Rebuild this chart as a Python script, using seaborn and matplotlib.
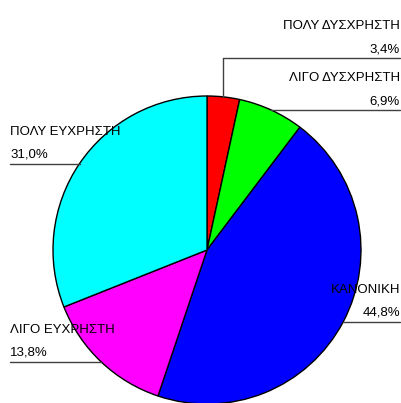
import numpy as np
import matplotlib
matplotlib.use("Agg")
import matplotlib.pyplot as plt
import seaborn as sns

categories = ["ΠΟΛΥ ΔΥΣΧΡΗΣΤΗ", "ΛΙΓΟ ΔΥΣΧΡΗΣΤΗ", "ΚΑΝΟΝΙΚΗ", "ΛΙΓΟ ΕΥΧΡΗΣΤΗ", "ΠΟΛΥ ΕΥΧΡΗΣΤΗ"]
values = [3.4, 6.9, 44.8, 13.8, 31.0]
pct_labels = ["3,4%", "6,9%", "44,8%", "13,8%", "31,0%"]
colors = ["#FF0000", "#00FF00", "#0000FF", "#FF00FF", "#00FFFF"]

sns.set_theme(style="white")
plt.rcParams['font.family'] = ['Liberation Sans', 'DejaVu Sans']

W, H = 401, 403
fig = plt.figure(figsize=(W / 100, H / 100), dpi=100)
ax = fig.add_axes([0, 0, 1, 1])

cx, cy, r = 207, H - 250, 154
wedges, _ = ax.pie(values, colors=colors, startangle=90, counterclock=False,
                   center=(cx, cy), radius=r, frame=True,
                   wedgeprops=dict(edgecolor='black', linewidth=1.0))
ax.set_xlim(0, W)
ax.set_ylim(0, H)
ax.set_aspect('equal')
ax.axis('off')

# label layout: side, and whether leader goes up vertically (y in pixel coords from top)
layout = [
    dict(side='right', up_to=58),
    dict(side='right', up_to=None),
    dict(side='right', up_to=None),
    dict(side='left', up_to=None),
    dict(side='left', up_to=None),
]

fs = 9.5
lc = '#404040'
for w, cat, pct, lay in zip(wedges, categories, pct_labels, layout):
    ang = np.deg2rad((w.theta1 + w.theta2) / 2)
    ex = cx + r * np.cos(ang)
    ey = cy + r * np.sin(ang)
    if lay['up_to'] is not None:
        ly = H - lay['up_to']
        ax.plot([ex, ex], [ey, ly], color=lc, lw=1, zorder=5)
    else:
        ly = ey
    if lay['side'] == 'right':
        ax.plot([ex, W - 1], [ly, ly], color=lc, lw=1, zorder=5)
        tx, ha = W - 1, 'right'
    else:
        ax.plot([10, ex], [ly, ly], color=lc, lw=1, zorder=5)
        tx, ha = 10, 'left'
    ax.text(tx, ly + 6, pct, ha=ha, va='baseline', fontsize=fs, color='black', zorder=6)
    ax.text(tx, ly + 29, cat, ha=ha, va='baseline', fontsize=fs, color='black', zorder=6)

fig.savefig("out.png", dpi=100)
